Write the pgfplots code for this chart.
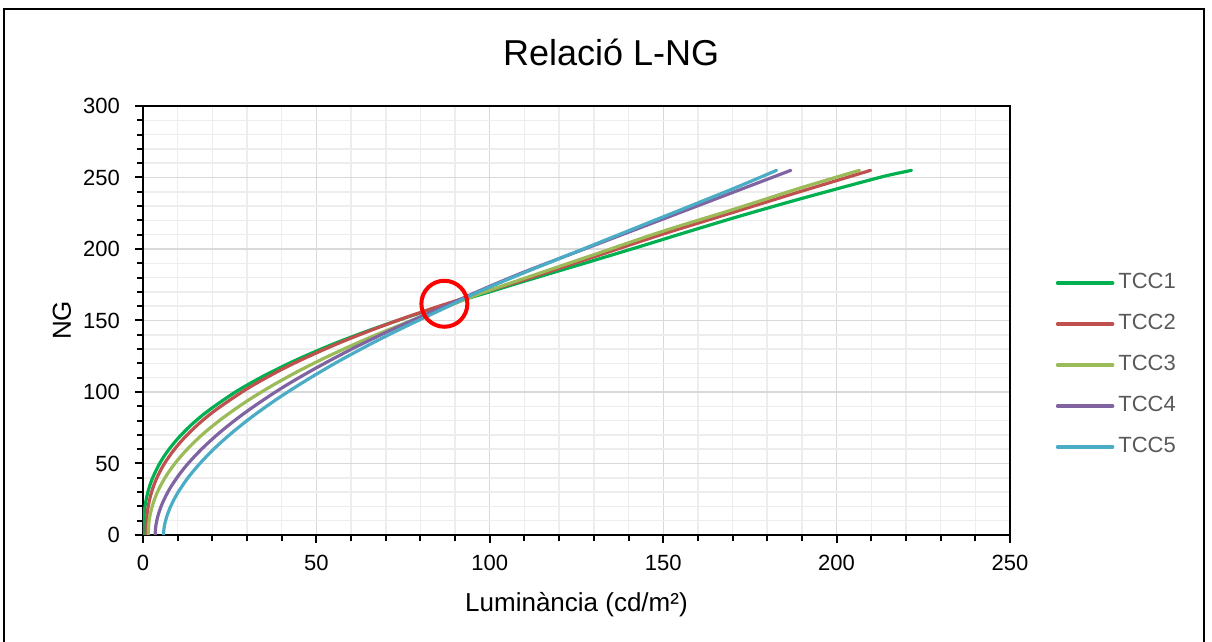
\documentclass[border=0pt]{standalone}
\usepackage{fontspec}
\setmainfont{Liberation Sans}
\usepackage{pgfplots}
\pgfplotsset{compat=1.18}
\definecolor{c1}{HTML}{00B050}
\definecolor{c2}{HTML}{C0504D}
\definecolor{c3}{HTML}{9BBB59}
\definecolor{c4}{HTML}{8064A2}
\definecolor{c5}{HTML}{4BACC6}
\definecolor{majgrid}{HTML}{D9D9D9}
\definecolor{mingrid}{HTML}{EDEDED}
\definecolor{legtext}{HTML}{595959}
\begin{document}
\begin{tikzpicture}
\useasboundingbox (0,0) rectangle (606pt,321pt);
\draw[black, line width=0.9pt] (2pt,0pt) -- (2pt,316.3pt) -- (602pt,316.3pt) -- (602pt,0pt);
\begin{axis}[
  at={(71.5pt,53.5pt)}, anchor=south west,
  scale only axis, width=433.5pt, height=214.5pt,
  xmin=0, xmax=250, ymin=0, ymax=300,
  xtick={0,50,...,250}, ytick={0,50,...,300},
  minor x tick num=4, minor y tick num=4,
  grid=both,
  major grid style={draw=majgrid, line width=0.6pt},
  minor grid style={draw=mingrid, line width=0.75pt},
  axis line style={black, line width=1pt},
  tick style={black, line width=1pt},
  tick align=outside, xtick pos=bottom, ytick pos=left,
  major tick length=4pt, minor tick length=3pt,
  /pgf/number format/assume math mode=true,
  tick label style={font=\fontsize{11}{13}\selectfont},
  yticklabel style={xshift=-4pt},
  xticklabel style={yshift=-2.5pt},
  title={Relació L-NG},
  title style={at={(axis description cs:0.54,1.097)}, anchor=center, font=\fontsize{18}{21}\selectfont},
  xlabel={Luminància (cd/m²)},
  ylabel={NG},
  label style={font=\fontsize{13}{15}\selectfont},
  xlabel style={at={(axis description cs:0.5,-0.163)}, anchor=center},
  ylabel style={at={(axis description cs:-0.0934,0.5)}, anchor=center},
  legend style={draw=none, fill=none, inner sep=0pt, outer sep=0pt,
    at={(axis description cs:1.0529,0.3963)}, anchor=west,
    font=\fontsize{11}{13}\selectfont, text=legtext,
    row sep=10.5pt, column sep=2pt,
    nodes={inner sep=0pt, text height=8pt, text depth=2pt}},
  legend cell align=left,
  legend image code/.code={\draw[#1, line width=1.75pt] (0pt,0pt) -- (27.5pt,0pt);},
  every axis plot/.append style={line width=1.6pt, line join=round, line cap=round, smooth, tension=0.5},
]
\addplot[c1] coordinates {
(0.1,0) (0.15,8.1) (0.3,14.1) (0.7,22) (1.5,30.8) (2.7,39.5) (4.8,50) (7.1,58.6)
(10.1,67.6) (14.1,77.4) (19.1,87.4) (27,100.5) (35.1,111.6) (44.1,122.3) (54.1,132.8)
(64.1,142.1) (74.1,150.6) (80.1,155.4) (87,160.8) (97.2,168) (110,177.5) (130,192)
(145,203) (155,210.5) (170,221.5) (185,232) (200,242) (210,248.5) (215,251.6) (221.6,255)};
\addlegendentry{TCC1}
\addplot[c2] coordinates {
(0.9,0) (1.0,9.4) (1.3,16.9) (2.0,25.8) (3.1,34.6) (4.5,42.5) (6.2,50) (8.9,59.4)
(11.9,67.9) (15.9,77.4) (20.9,87.3) (29.5,101.5) (37.9,113.1) (45.9,122.8) (55.9,133.6)
(65.9,143.3) (75.9,152.2) (86.9,161.2) (97.2,169) (110,178.5) (130,194.5) (150,210.5)
(170,225.5) (190,240.5) (209.8,255)};
\addlegendentry{TCC2}
\addplot[c3] coordinates {
(1.5,0) (1.7,8.7) (2.2,15.8) (3.2,24.2) (4.7,32.8) (6.7,41.4) (9.2,50) (12.5,59.3)
(17,70) (22.5,80.9) (29.5,92.9) (36.5,103.4) (44.5,114.2) (53.5,125.1) (63.5,136.1)
(73.5,146.2) (81.5,153.8) (86.9,158.9) (97.2,168.8) (110,179.5) (130,196) (150,212.5)
(170,227.5) (190,243) (206.6,255)};
\addlegendentry{TCC3}
\addplot[c4] coordinates {
(3.5,0) (3.7,6.3) (4.3,13.3) (5.5,21.7) (7.5,31.5) (10,40.8) (13,50) (17,60.3)
(22,71.4) (28,83) (34.5,94.1) (41.5,105) (50,116.9) (60,129.8) (70,141.6) (80,152.6)
(86.9,159.8) (97.2,171) (110,184) (130,202.5) (150,221) (170,239.5) (186.8,255)};
\addlegendentry{TCC4}
\addplot[c5] coordinates {
(5.9,0) (6.1,5.3) (6.7,11.7) (7.9,19.6) (9.9,29) (12.9,39.8) (16.4,50) (20.9,61.2)
(25.9,72) (31.9,83.5) (38.9,95.5) (46.9,107.9) (55.9,120.8) (65.9,133.9) (75.9,146)
(86.9,158.6) (97.2,170.5) (110,183.5) (130,203) (150,222.5) (170,242) (182.7,255)};
\addlegendentry{TCC5}
\addplot[only marks, mark=o, mark size=11.5pt, mark options={draw=red, line width=2pt}, forget plot] coordinates {(86.9,161.7)};
\end{axis}
\end{tikzpicture}
\end{document}
